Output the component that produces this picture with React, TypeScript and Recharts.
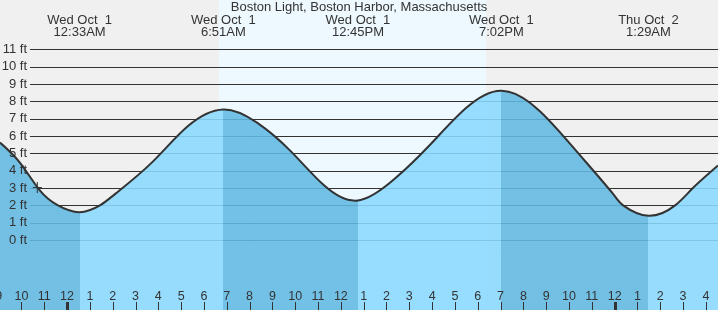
import { ComposedChart, Area, XAxis, YAxis, CartesianGrid, ReferenceDot } from 'recharts';

const W = 718;
const H = 310;

// hours after midnight Wed Oct 1, and tide height in ft
// (highs, lows, quarter points between them, 2 ft crossings around the lows)
const hours = [
  -2.94, -2.07, -1.195, -0.4, 0.55, 1.44, 2.125, 3.7, 5.275, 6.85, 8.325, 9.8, 11.275, 12.75, 14.32,
  15.89, 17.46, 19.033, 20.65, 22.26, 23.87, 24.37, 25.483, 26.65, 27.43, 28.53,
];
const heights = [
  5.62, 4.47, 2.87, 2.0, 1.61, 2.0, 2.68, 4.45, 6.55, 7.53, 6.77, 5.13, 3.14, 2.28, 3.49, 5.47, 7.58,
  8.61, 7.52, 5.23, 2.76, 2.0, 1.4, 2.0, 3.0, 4.3,
];

// highs and lows
const extremaHours = [0.55, 6.85, 12.75, 19.033, 25.483];
const extremaDates = ['Wed Oct  1', 'Wed Oct  1', 'Wed Oct  1', 'Wed Oct  1', 'Thu Oct  2'];
const extremaTimes = ['12:33AM', '6:51AM', '12:45PM', '7:02PM', '1:29AM'];

const hourTicks = [-3, -2, -1, 0, 1, 2, 3, 4, 5, 6, 7, 8, 9, 10, 11, 12, 13, 14, 15, 16, 17, 18, 19, 20, 21, 22, 23, 24, 25, 26, 27, 28];
const feetTicks = [0, 1, 2, 3, 4, 5, 6, 7, 8, 9, 10, 11];

const sunrise = 6.66;
const sunset = 18.36;
const nowHour = -1.305;
const nowHeight = 3.03;

const T0 = -2.94;
const T1 = 28.53;
const Y0 = -4.03;
const Y1 = 13.84;

const FONT = '"Liberation Sans", Arial, sans-serif';
const INK = '#333';
const NIGHT = '#f0f0f0';
const DAY = '#eef8ff';
const RISING = '#8ad9ff';
const FALLING = '#61b9e2';

const data = hours.map((t, i) => ({ t, h: heights[i] }));

const frac = (t: number) => (t - T0) / (T1 - T0);
const px = (t: number) => frac(t) * W;

// hard-stop gradient: falling tide (high -> low) is darker
const bounds = [T0, ...extremaHours, T1];
const fillStops = bounds.slice(0, -1).flatMap((b, i) => {
  const c = i % 2 === 0 ? FALLING : RISING;
  return [
    { offset: frac(b), color: c },
    { offset: frac(bounds[i + 1]), color: c },
  ];
});

const hourLabel = (h: number) => {
  const m = ((h % 12) + 12) % 12;
  return m === 0 ? '12' : String(m);
};

const HourTick = (props: any) => {
  const { x, payload } = props;
  const v = payload.value;
  const midnight = ((v % 24) + 24) % 24 === 0;
  const lx = Math.round(x) + 0.5;
  return (
    <g>
      <line x1={lx} x2={lx} y1={302} y2={310} stroke={INK} strokeWidth={midnight ? 3 : 1} />
      <text x={x} y={300} textAnchor="middle" fontSize={12.5} fontFamily={FONT} fill={INK}>
        {hourLabel(v)}
      </text>
    </g>
  );
};

const ExtremaTick = (props: any) => {
  const { x, index } = props;
  return (
    <g>
      <text x={x} y={24} textAnchor="middle" fontSize={13} fontFamily={FONT} fill={INK} style={{ whiteSpace: 'pre' }}>
        {extremaDates[index]}
      </text>
      <text x={x} y={36} textAnchor="middle" fontSize={13} fontFamily={FONT} fill={INK}>
        {extremaTimes[index]}
      </text>
    </g>
  );
};

const FeetTick = (props: any) => {
  const { y, payload } = props;
  return (
    <text x={27} y={y + 3.6} textAnchor="end" fontSize={13} fontFamily={FONT} fill={INK}>
      {`${payload.value} ft`}
    </text>
  );
};

const GridLine = (p: any) => {
  if (p.y1 < 20 || p.y1 > 290) return <g key={p.key} />;
  const y = Math.round(p.y1) + 0.5;
  return <line key={p.key} x1={30} x2={p.x2} y1={y} y2={y} stroke={INK} strokeWidth={1} />;
};

const NowMark = (p: any) => {
  const { cx, cy } = p;
  return (
    <g stroke={INK} strokeWidth={1}>
      <line x1={cx - 4.5} x2={cx + 4.5} y1={cy} y2={cy} />
      <line x1={cx} x2={cx} y1={cy - 5.5} y2={cy + 5.5} />
    </g>
  );
};

export default function App() {
  const bg = `linear-gradient(to right, ${NIGHT} 0px, ${NIGHT} ${px(sunrise)}px, ${DAY} ${px(sunrise)}px, ${DAY} ${px(sunset)}px, ${NIGHT} ${px(sunset)}px)`;
  return (
    <div style={{ position: 'fixed', left: 0, top: 0, width: W, height: H, background: bg }}>
      <div
        style={{
          position: 'absolute',
          top: 0,
          left: 0,
          width: W,
          textAlign: 'center',
          fontFamily: FONT,
          fontSize: 13,
          lineHeight: '13px',
          color: INK,
        }}
      >
        Boston Light, Boston Harbor, Massachusetts
      </div>
      <ComposedChart width={W} height={H} data={data} margin={{ top: 0, right: 0, bottom: 0, left: 0 }}>
        <defs>
          <linearGradient id="tideFill" x1="0" y1="0" x2="1" y2="0">
            {fillStops.map((s, i) => (
              <stop key={i} offset={s.offset} stopColor={s.color} />
            ))}
          </linearGradient>
        </defs>
        <CartesianGrid vertical={false} horizontal={GridLine} horizontalValues={feetTicks} />
        <XAxis
          xAxisId={0}
          type="number"
          dataKey="t"
          domain={[T0, T1]}
          allowDataOverflow
          ticks={hourTicks}
          interval={0}
          mirror
          height={30}
          axisLine={false}
          tickLine={false}
          tick={<HourTick />}
        />
        <XAxis
          xAxisId="top"
          orientation="top"
          type="number"
          dataKey="t"
          domain={[T0, T1]}
          allowDataOverflow
          ticks={extremaHours}
          interval={0}
          mirror
          height={40}
          axisLine={false}
          tickLine={false}
          tick={<ExtremaTick />}
        />
        <YAxis
          type="number"
          domain={[Y0, Y1]}
          allowDataOverflow
          ticks={feetTicks}
          interval={0}
          mirror
          width={30}
          axisLine={false}
          tickLine={false}
          tick={<FeetTick />}
        />
        <Area
          xAxisId={0}
          type="natural"
          dataKey="h"
          stroke={INK}
          strokeWidth={2}
          fill="url(#tideFill)"
          fillOpacity={0.88}
          baseValue="dataMin"
          dot={false}
          activeDot={false}
          isAnimationActive={false}
        />
        <ReferenceDot xAxisId={0} x={nowHour} y={nowHeight} r={5} shape={<NowMark />} ifOverflow="visible" />
      </ComposedChart>
    </div>
  );
}
